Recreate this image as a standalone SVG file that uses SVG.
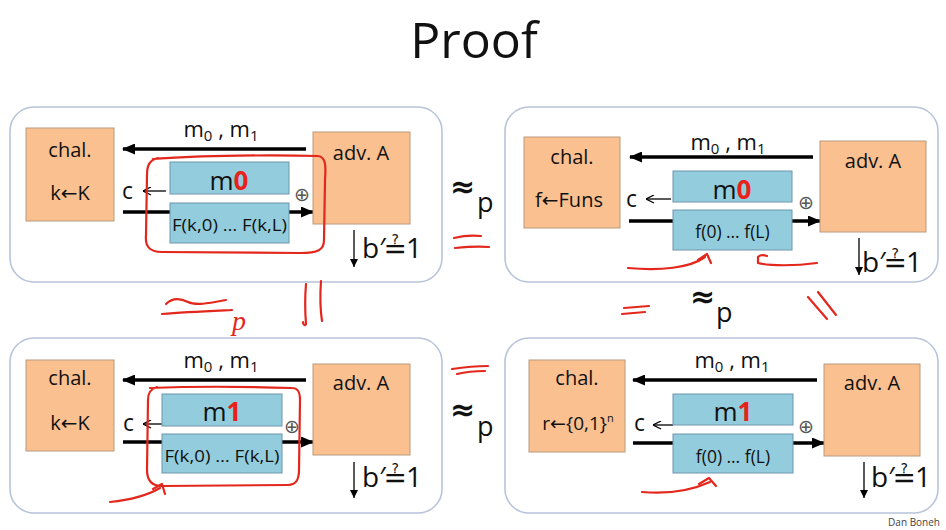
<svg xmlns="http://www.w3.org/2000/svg" width="946" height="530" viewBox="0 0 946 530">
<defs>
<style>
.t{font-family:"Open Sans","DejaVu Sans",sans-serif;fill:#111;}
.m{font-family:"DejaVu Sans",sans-serif;fill:#111;}
.x{font-family:"DejaVu Sans",sans-serif;fill:#555;font-size:19px;}
.frame{fill:#fff;stroke:#b7c4da;stroke-width:1.6;}
.or{fill:#fac090;stroke:#b99a7c;stroke-width:1;}
.bl{fill:#93cddd;stroke:#6c95ad;stroke-width:1;}
.thick{stroke:#000;stroke-width:3.5;fill:none;}
.thin{stroke:#000;stroke-width:1.3;fill:none;}
.ink{stroke:#e3271c;stroke-width:2.2;fill:none;stroke-linecap:round;stroke-linejoin:round;}
.red{fill:#e8211a;font-weight:bold;}
</style>
<marker id="ah" viewBox="0 0 13 11" refX="12" refY="5.5" markerWidth="13" markerHeight="11" markerUnits="userSpaceOnUse" orient="auto"><path d="M0,0 L13,5.5 L0,11 z" fill="#000"/></marker>
<marker id="oa" viewBox="0 0 9 9" refX="8.5" refY="4.5" markerWidth="9" markerHeight="9" markerUnits="userSpaceOnUse" orient="auto"><path d="M0.5,0.5 L8.5,4.5 L0.5,8.5" fill="none" stroke="#000" stroke-width="1.3"/></marker>
<marker id="sa" viewBox="0 0 8 8" refX="8" refY="4" markerWidth="8" markerHeight="8" markerUnits="userSpaceOnUse" orient="auto"><path d="M0,0 L8,4 L0,8 z" fill="#000"/></marker>
</defs>
<rect width="946" height="530" fill="#fff"/>
<text class="t" x="474" y="58" font-size="50" text-anchor="middle">Proof</text>

<!-- panel frames -->
<g id="panel1"><rect class="frame" x="10" y="107" width="432" height="175" rx="24"/></g>
<g id="panel2"><rect class="frame" x="505" y="107" width="433" height="175" rx="24"/></g>
<g id="panel3"><rect class="frame" x="10" y="338" width="432" height="175" rx="24"/></g>
<g id="panel4"><rect class="frame" x="505" y="338" width="433" height="175" rx="24"/></g>

<!-- connectors (drawn under the pad boxes) -->
<g id="connectors">
<line class="thick" x1="306" y1="149" x2="123" y2="149" marker-end="url(#ah)"/>
<line class="thick" x1="123" y1="212" x2="313" y2="212" marker-end="url(#ah)"/>
<line class="thin" x1="166" y1="191" x2="143" y2="191" marker-end="url(#oa)"/>
<line class="thin" x1="354" y1="230" x2="354" y2="267" marker-end="url(#sa)"/>

<line class="thick" x1="813" y1="157" x2="630" y2="157" marker-end="url(#ah)"/>
<line class="thick" x1="629" y1="221" x2="820" y2="221" marker-end="url(#ah)"/>
<line class="thin" x1="671" y1="199" x2="646" y2="199" marker-end="url(#oa)"/>
<line class="thin" x1="859" y1="238" x2="859" y2="275" marker-end="url(#sa)"/>

<line class="thick" x1="306" y1="380" x2="123" y2="380" marker-end="url(#ah)"/>
<line class="thick" x1="123" y1="442" x2="313" y2="442" marker-end="url(#ah)"/>
<line class="thin" x1="162" y1="424" x2="143" y2="424" marker-end="url(#oa)"/>
<line class="thin" x1="354" y1="462" x2="354" y2="498" marker-end="url(#sa)"/>

<line class="thick" x1="817" y1="380" x2="633" y2="380" marker-end="url(#ah)"/>
<line class="thick" x1="633" y1="443" x2="824" y2="443" marker-end="url(#ah)"/>
<line class="thin" x1="673" y1="425" x2="653" y2="425" marker-end="url(#oa)"/>
<line class="thin" x1="864" y1="462" x2="864" y2="498" marker-end="url(#sa)"/>
</g>

<!-- panel 1 nodes -->
<g id="p1-chal"><rect class="or" x="26" y="128" width="88" height="93"/>
<text class="t" x="70" y="157" font-size="20" text-anchor="middle">chal.</text>
<text class="t" x="70" y="200" font-size="20" text-anchor="middle">k←K</text></g>
<g id="p1-adv"><rect class="or" x="313" y="132" width="97" height="92"/>
<text class="t" x="361" y="160" font-size="20" text-anchor="middle">adv. A</text></g>
<g id="p1-msg"><rect class="bl" x="170" y="162" width="119" height="32"/>
<text class="t" x="229" y="190" font-size="26" text-anchor="middle">m<tspan class="red">0</tspan></text></g>
<g id="p1-pad"><rect class="bl" x="170" y="203" width="119" height="40"/>
<text class="t" x="229.5" y="231" font-size="16.5" text-anchor="middle" textLength="115" lengthAdjust="spacingAndGlyphs">F(k,0) … F(k,L)</text></g>
<g id="p1-labels">
<text class="t" x="221" y="137" font-size="22" text-anchor="middle">m<tspan dy="4" font-size="15">0</tspan><tspan dy="-4"> , m</tspan><tspan dy="4" font-size="15">1</tspan></text>
<text class="t" x="122" y="199" font-size="23">c</text>
<text class="x" x="302" y="201" text-anchor="middle">⊕</text>
<text class="t" x="362" y="258" font-size="28">b′<tspan class="m" font-size="28" dx="-2">≟</tspan><tspan dx="-1">1</tspan></text>
</g>

<!-- panel 2 nodes -->
<g id="p2-chal"><rect class="or" x="524" y="137" width="96" height="91"/>
<text class="t" x="572" y="164" font-size="20" text-anchor="middle">chal.</text>
<text class="t" x="569" y="207" font-size="20" text-anchor="middle">f←Funs</text></g>
<g id="p2-adv"><rect class="or" x="820" y="141" width="106" height="91"/>
<text class="t" x="873" y="168" font-size="20" text-anchor="middle">adv. A</text></g>
<g id="p2-msg"><rect class="bl" x="673" y="171" width="119" height="31"/>
<text class="t" x="732" y="199" font-size="26" text-anchor="middle">m<tspan class="red">0</tspan></text></g>
<g id="p2-pad"><rect class="bl" x="673" y="210" width="119" height="40"/>
<text class="t" x="732.5" y="238" font-size="17.5" text-anchor="middle">f(0) … f(L)</text></g>
<g id="p2-labels">
<text class="t" x="728" y="150" font-size="22" text-anchor="middle">m<tspan dy="4" font-size="15">0</tspan><tspan dy="-4"> , m</tspan><tspan dy="4" font-size="15">1</tspan></text>
<text class="t" x="626" y="207" font-size="23">c</text>
<text class="x" x="806" y="209" text-anchor="middle">⊕</text>
<text class="t" x="862" y="272" font-size="28">b′<tspan class="m" font-size="28" dx="-2">≟</tspan><tspan dx="-1">1</tspan></text>
</g>

<!-- panel 3 nodes -->
<g id="p3-chal"><rect class="or" x="26" y="360" width="88" height="91"/>
<text class="t" x="70" y="385" font-size="20" text-anchor="middle">chal.</text>
<text class="t" x="70" y="430" font-size="20" text-anchor="middle">k←K</text></g>
<g id="p3-adv"><rect class="or" x="313" y="364" width="97" height="91"/>
<text class="t" x="361" y="390" font-size="20" text-anchor="middle">adv. A</text></g>
<g id="p3-msg"><rect class="bl" x="162" y="394" width="120" height="32"/>
<text class="t" x="222" y="421" font-size="26" text-anchor="middle">m<tspan class="red">1</tspan></text></g>
<g id="p3-pad"><rect class="bl" x="162" y="434" width="120" height="39"/>
<text class="t" x="222" y="462" font-size="16.5" text-anchor="middle" textLength="115" lengthAdjust="spacingAndGlyphs">F(k,0) … F(k,L)</text></g>
<g id="p3-labels">
<text class="t" x="221" y="368" font-size="22" text-anchor="middle">m<tspan dy="4" font-size="15">0</tspan><tspan dy="-4"> , m</tspan><tspan dy="4" font-size="15">1</tspan></text>
<text class="t" x="123" y="431" font-size="23">c</text>
<text class="x" x="292" y="433" text-anchor="middle">⊕</text>
<text class="t" x="362" y="487" font-size="28">b′<tspan class="m" font-size="28" dx="-2">≟</tspan><tspan dx="-1">1</tspan></text>
</g>

<!-- panel 4 nodes -->
<g id="p4-chal"><rect class="or" x="529" y="360" width="96" height="92"/>
<text class="t" x="577" y="385" font-size="20" text-anchor="middle">chal.</text>
<text class="t" x="578" y="430" font-size="19" text-anchor="middle">r←{0,1}<tspan dy="-8" font-size="11">n</tspan></text></g>
<g id="p4-adv"><rect class="or" x="824" y="364" width="96" height="92"/>
<text class="t" x="872" y="390" font-size="20" text-anchor="middle">adv. A</text></g>
<g id="p4-msg"><rect class="bl" x="673" y="394" width="120" height="31"/>
<text class="t" x="733" y="421" font-size="26" text-anchor="middle">m<tspan class="red">1</tspan></text></g>
<g id="p4-pad"><rect class="bl" x="673" y="434" width="120" height="39"/>
<text class="t" x="733" y="463" font-size="17.5" text-anchor="middle">f(0) … f(L)</text></g>
<g id="p4-labels">
<text class="t" x="732" y="368" font-size="22" text-anchor="middle">m<tspan dy="4" font-size="15">0</tspan><tspan dy="-4"> , m</tspan><tspan dy="4" font-size="15">1</tspan></text>
<text class="t" x="634" y="431" font-size="23">c</text>
<text class="x" x="806" y="433" text-anchor="middle">⊕</text>
<text class="t" x="871" y="487" font-size="28">b′<tspan class="m" font-size="28" dx="-2">≟</tspan><tspan dx="-1">1</tspan></text>
</g>

<!-- approximately-equal marks -->
<g id="approx">
<text class="m" x="450" y="197" font-size="30" font-weight="bold">≈</text><text class="t" x="477" y="212" font-size="27">p</text>
<text class="m" x="690" y="307" font-size="30" font-weight="bold">≈</text><text class="t" x="716" y="322" font-size="27">p</text>
<text class="m" x="450" y="420" font-size="30" font-weight="bold">≈</text><text class="t" x="477" y="436" font-size="27">p</text>
</g>

<!-- red ink annotations -->
<g id="ink">
<path class="ink" d="M153,159 C200,155 280,155 318,156 C326,157 326,166 325,180 L324,240 C324,250 318,253 300,253 L162,252 C149,252 145,246 146,235 L147,175 C147,166 149,160 158,158"/>
<path class="ink" d="M454,238 C462,236 472,235 481,236"/>
<path class="ink" d="M455,248 C465,247 478,246 489,247"/>
<path class="ink" d="M628,268 C660,271 690,268 705,257"/>
<path class="ink" d="M698,260 L707,254 L711,263"/>
<path class="ink" d="M817,263 C795,266 770,266 758,263 L758,257 C760,255 764,255 767,256"/>
<path class="ink" d="M166,304 C172,298 180,298 188,302 C196,306 210,303 226,300"/>
<path class="ink" d="M162,314 C185,312 210,311 232,310"/>
<text x="232" y="330" font-size="28" font-family="'Liberation Serif',serif" font-style="italic" fill="#e3271c">p</text>
<path class="ink" d="M306,284 C305,296 305,311 306,324 C305,326 303,325 303,322"/>
<path class="ink" d="M321,281 C320,295 320,308 322,321"/>
<path class="ink" d="M624,308 L649,306"/>
<path class="ink" d="M622,314 L645,312"/>
<path class="ink" d="M808,297 L827,319"/>
<path class="ink" d="M818,292 L836,315"/>
<path class="ink" d="M452,369 C465,367 478,366 488,366"/>
<path class="ink" d="M457,374 C465,372 475,371 485,371"/>
<path class="ink" d="M150,388 C200,386 260,387 292,388 C298,388 300,392 300,400 L299,470 C299,480 296,485 288,485 L162,486 C151,486 147,480 147,470 L148,400 C148,393 150,389 157,387"/>
<path class="ink" d="M110,502 C130,500 148,495 160,488"/>
<path class="ink" d="M153,489 L162,484 L165,494"/>
<path class="ink" d="M642,492 C665,494 690,491 710,482"/>
<path class="ink" d="M699,484 L709,478 L716,486"/>
</g>

<text x="940" y="526" font-size="10" text-anchor="end" font-family="'Open Sans',sans-serif" fill="#444">Dan Boneh</text>
</svg>
